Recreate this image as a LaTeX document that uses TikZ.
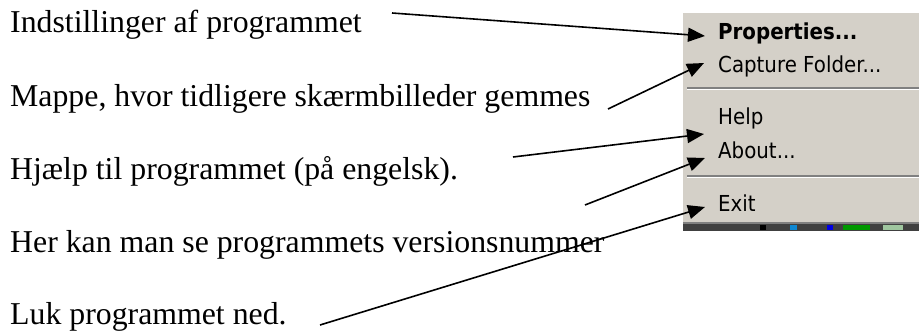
\documentclass[tikz,border=0pt]{standalone}
\usepackage{fontspec}
\setmainfont{Liberation Serif}
\newfontfamily\menufont[FakeStretch=0.9]{DejaVu Sans}
\usetikzlibrary{arrows.meta}
\definecolor{menubg}{HTML}{D4D0C8}
\definecolor{menushadow}{HTML}{808080}
\definecolor{menudark}{HTML}{404040}
\tikzset{
  note/.style={anchor=base west, inner sep=0pt, font=\fontsize{31.8}{38}\selectfont},
  menuitem/.style={anchor=base west, inner sep=0pt, font=\menufont\fontsize{22}{26}\selectfont},
  pointer/.style={line width=1.6pt, -{Triangle[length=17pt,width=14pt]}},
}
\begin{document}
\begin{tikzpicture}[x=1pt,y=-1pt]
  \useasboundingbox (0,0) rectangle (919,336);

  % context menu panel
  \fill[menubg] (683,13) rectangle (919,222);
  \fill[menudark] (683,222) rectangle (919,231);
  \fill[menushadow] (683,222) rectangle (919,224.5);
  \fill[black] (760,225.5) rectangle (766,230);
  \fill[cyan!70!blue] (790,225.5) rectangle (797,230);
  \fill[blue!90!black] (827,225.5) rectangle (833,230);
  \fill[green!60!black] (843,225.5) rectangle (870,230);
  \fill[green!25!gray!60] (883,225.5) rectangle (903,230);
  % separators
  \fill[menushadow] (687,87.5) rectangle (919,89);
  \fill[white] (687,89) rectangle (919,90.5);
  \fill[menushadow] (687,175.5) rectangle (919,177);
  \fill[white] (687,177) rectangle (919,178.5);

  % menu entries
  \node[menuitem, font=\menufont\bfseries\fontsize{22}{26}\selectfont] (m1) at (718,40) {Properties...};
  \node[menuitem] (m2) at (718,73) {Capture Folder...};
  \node[menuitem] (m3) at (718,125) {Help};
  \node[menuitem] (m4) at (718,159) {About...};
  \node[menuitem] (m5) at (718,212) {Exit};

  % explanations
  \node[note] (t1) at (10,33) {Indstillinger af programmet};
  \node[note] (t2) at (10,107) {Mappe, hvor tidligere skærmbilleder gemmes};
  \node[note] (t3) at (10,180) {Hjælp til programmet (på engelsk).};
  \node[note] (t4) at (10,253) {Her kan man se programmets versionsnummer};
  \node[note] (t5) at (10,325) {Luk programmet ned.};

  % arrow start and tip points
  \coordinate (s1) at (392,13);
  \coordinate (s2) at (608,109);
  \coordinate (s3) at (513,157);
  \coordinate (s4) at (585,205);
  \coordinate (s5) at (320,325);
  \coordinate (e1) at (705,36);
  \coordinate (e2) at (704,63);
  \coordinate (e3) at (704,134);
  \coordinate (e4) at (705,158);
  \coordinate (e5) at (705,207);

  \draw[pointer] (s1) -- (e1);
  \draw[pointer] (s2) -- (e2);
  \draw[pointer] (s3) -- (e3);
  \draw[pointer] (s4) -- (e4);
  \draw[pointer] (s5) -- (e5);
\end{tikzpicture}
\end{document}
